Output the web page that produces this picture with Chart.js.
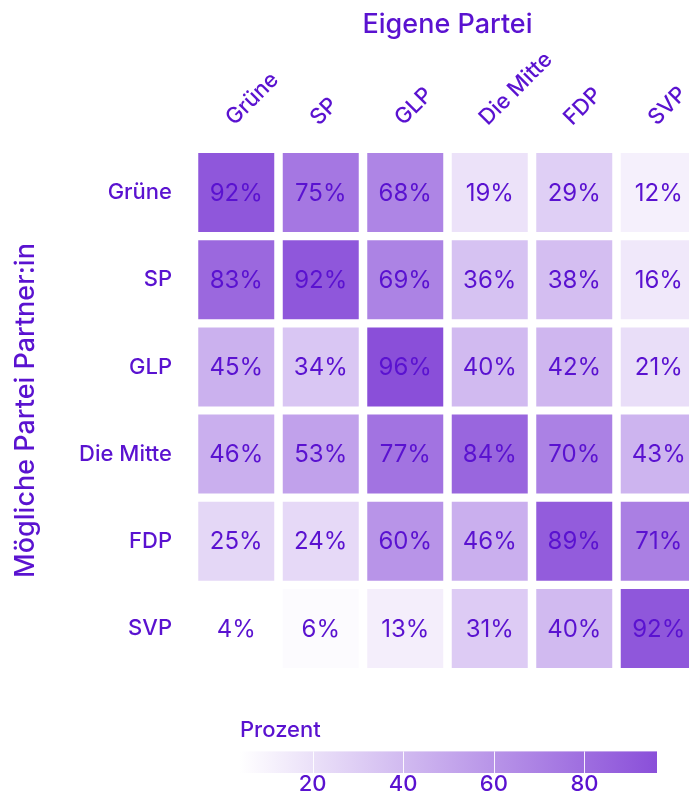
<!DOCTYPE html>
<html>
<head>
<meta charset="utf-8">
<script src="https://cdn.jsdelivr.net/npm/chart.js@4.4.1/dist/chart.umd.min.js"></script>
<style>
  html, body { margin: 0; padding: 0; background: #fff; overflow: hidden; }
  #wrap { position: relative; width: 689px; height: 793px; overflow: hidden; }
  #heat { position: absolute; left: 0; top: 0; }
  #scale { position: absolute; left: 0; top: 700px; }
</style>
</head>
<body>
<div id="wrap">
  <canvas id="heat" width="705" height="690"></canvas>
  <canvas id="scale" width="689" height="93"></canvas>
</div>
<script>
// columns = eigene Partei, rows = mögliche Partner:in
const parties = ['Grüne', 'SP', 'GLP', 'Die Mitte', 'FDP', 'SVP'];
const partners = ['Grüne', 'SP', 'GLP', 'Die Mitte', 'FDP', 'SVP'];

const rowGruene = [92, 75, 68, 19, 29, 12];
const rowSP     = [83, 92, 69, 36, 38, 16];
const rowGLP    = [45, 34, 96, 40, 42, 21];
const rowMitte  = [46, 53, 77, 84, 70, 43];
const rowFDP    = [25, 24, 60, 46, 89, 71];
const rowSVP    = [4, 6, 13, 31, 40, 92];

const scaleTicks = [20, 40, 60, 80];
const scaleMin = 4;
const scaleMax = 96;

const rows = [rowGruene, rowSP, rowGLP, rowMitte, rowFDP, rowSVP];

const ink = '#5a12d0';
const lowColor = [255, 255, 255];
const highColor = [138, 79, 217];
const fontFamily = 'Inter, sans-serif';

Chart.defaults.font.family = fontFamily;
Chart.defaults.color = ink;

function shade(v) {
    const t = Math.max(0, Math.min(1, (v - scaleMin) / (scaleMax - scaleMin)));
    const c = lowColor.map((lo, k) => Math.round(lo + (highColor[k] - lo) * t));
    return `rgb(${c[0]}, ${c[1]}, ${c[2]})`;
}

function noPad(s) {
    s.paddingTop = 0;
    s.paddingBottom = 0;
    s.paddingLeft = 0;
    s.paddingRight = 0;
}

const cellLabels = {
    id: 'cellLabels',
    afterDatasetsDraw(chart) {
        const ctx = chart.ctx;
        ctx.save();
        ctx.font = `400 24px ${fontFamily}`;
        ctx.fillStyle = ink;
        ctx.textAlign = 'center';
        ctx.textBaseline = 'middle';
        chart.data.datasets.forEach((ds, i) => {
            chart.getDatasetMeta(i).data.forEach((bar, j) => {
                const p = bar.getCenterPoint();
                ctx.fillText(ds.values[j] + '%', p.x, p.y + 1);
            });
        });
        ctx.restore();
    }
};

new Chart(document.getElementById('heat'), {
    type: 'bar',
    data: {
        labels: parties,
        datasets: rows.map((vals, i) => ({
            label: partners[i],
            values: vals,
            data: vals.map(() => [i - 0.465, i + 0.465]),
            backgroundColor: vals.map(shade),
            borderColor: 'rgba(255, 255, 255, 0.35)',
            borderWidth: 1,
            borderSkipped: false,
            grouped: false,
            categoryPercentage: 1,
            barPercentage: 0.923
        }))
    },
    options: {
        responsive: false,
        animation: false,
        layout: { padding: { left: 0, top: 0, right: 4, bottom: 18 } },
        plugins: {
            legend: { display: false },
            tooltip: { enabled: false }
        },
        scales: {
            x: {
                type: 'category',
                position: 'top',
                offset: true,
                grid: { display: false },
                border: { display: false },
                ticks: {
                    color: ink,
                    font: { size: 22, weight: '500' },
                    minRotation: 45,
                    maxRotation: 45,
                    autoSkip: false,
                    labelOffset: 12,
                    padding: 10
                },
                title: {
                    display: true,
                    text: 'Eigene Partei',
                    color: ink,
                    font: { size: 27, weight: '500' },
                    padding: { top: 9, bottom: 0 }
                },
                afterFit(s) { s.height = 149; noPad(s); }
            },
            y: {
                type: 'linear',
                min: -0.5,
                max: 5.5,
                reverse: true,
                grid: { display: false },
                border: { display: false },
                afterBuildTicks(s) { s.ticks = partners.map((_, i) => ({ value: i })); },
                ticks: {
                    color: ink,
                    font: { size: 22, weight: '500' },
                    padding: 14,
                    callback: v => partners[v]
                },
                title: {
                    display: true,
                    text: 'Mögliche Partei Partner:in',
                    color: ink,
                    font: { size: 27, weight: '500' },
                    padding: { top: 10, bottom: 0 }
                },
                afterFit(s) { s.width = 194; noPad(s); }
            }
        }
    },
    plugins: [cellLabels]
});

const gradientBar = {
    id: 'gradientBar',
    beforeDatasetsDraw(chart) {
        const { ctx, chartArea } = chart;
        const x = chart.scales.x;
        const x0 = x.getPixelForValue(scaleMin);
        const x1 = x.getPixelForValue(scaleMax);
        const g = ctx.createLinearGradient(x0, 0, x1, 0);
        g.addColorStop(0, shade(scaleMin));
        g.addColorStop(1, shade(scaleMax));
        ctx.save();
        ctx.fillStyle = g;
        ctx.fillRect(x0, chartArea.top, x1 - x0, chartArea.bottom - chartArea.top);
        // white tick lines on top of the bar
        ctx.strokeStyle = 'rgba(255, 255, 255, 0.9)';
        ctx.lineWidth = 1;
        scaleTicks.forEach(v => {
            const px = Math.round(x.getPixelForValue(v)) + 0.5;
            ctx.beginPath();
            ctx.moveTo(px, chartArea.top);
            ctx.lineTo(px, chartArea.bottom);
            ctx.stroke();
        });
        ctx.restore();
    }
};

new Chart(document.getElementById('scale'), {
    type: 'bar',
    data: { labels: [], datasets: [] },
    options: {
        responsive: false,
        animation: false,
        layout: { padding: { left: 240, right: 32, top: 0, bottom: 0 } },
        plugins: {
            legend: { display: false },
            tooltip: { enabled: false },
            title: {
                display: true,
                text: 'Prozent',
                align: 'start',
                color: ink,
                font: { size: 22, weight: '500' },
                padding: { top: 17, bottom: 8 }
            }
        },
        scales: {
            x: {
                type: 'linear',
                min: scaleMin,
                max: scaleMax,
                offset: false,
                grid: { display: false },
                border: { display: false },
                afterBuildTicks(s) { s.ticks = scaleTicks.map(v => ({ value: v })); },
                ticks: { color: ink, font: { size: 22, weight: '500' }, padding: -10 },
                afterFit(s) { s.height = 20; noPad(s); }
            },
            y: { display: false }
        }
    },
    plugins: [gradientBar]
});
</script>
</body>
</html>
